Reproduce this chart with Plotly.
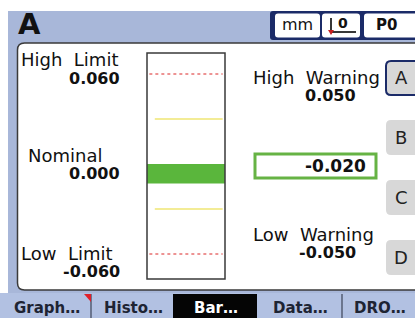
import plotly.graph_objects as go

W, H = 415, 318

# ---- data ----
channel = "A"
units = "mm"
preset = "P0"
limit_labels = ["High  Limit", "Nominal", "Low  Limit"]
limit_values = ["0.060", "0.000", "-0.060"]
warning_labels = ["High  Warning", "Low  Warning"]
warning_values = ["0.050", "-0.050"]
current_value = "-0.020"
limit_levels = [0.060, -0.060]       # red dotted lines on the bar
warning_levels = [0.030, -0.030]     # yellow lines on the bar (as drawn)
nominal = 0.0
bar_reading = -0.013                  # green bar end (as drawn)
axis_range = [-0.0767, 0.074]
buttons = ["A", "B", "C", "D"]
tabs = ["Graph…", "Histo…", "Bar…", "Data…", "DRO…"]
active_tab = "Bar…"


def px(x):
    return x / W


def py(y):
    return 1 - y / H


def rrect(x0, y0, x1, y1, r):
    X0, X1 = px(x0), px(x1)
    Y0, Y1 = py(y0), py(y1)
    rx, ry = r / W, r / H
    return (f"M {X0+rx},{Y0} L {X1-rx},{Y0} Q {X1},{Y0} {X1},{Y0-ry} "
            f"L {X1},{Y1+ry} Q {X1},{Y1} {X1-rx},{Y1} L {X0+rx},{Y1} "
            f"Q {X0},{Y1} {X0},{Y1+ry} L {X0},{Y0-ry} Q {X0},{Y0} {X0+rx},{Y0} Z")


BLUE = "#a8b7d9"
TABBLUE = "#b2c1e2"
NAVY = "#1b2b68"
FONT = "DejaVu Sans"

shapes = []
ann = []

# background chrome
shapes.append(dict(type="rect", xref="paper", yref="paper", x0=px(8), x1=px(415),
                   y0=py(293), y1=py(11), fillcolor=BLUE, line_width=0, layer="below"))
shapes.append(dict(type="rect", xref="paper", yref="paper", x0=px(0), x1=px(415),
                   y0=py(318), y1=py(293), fillcolor=TABBLUE, line_width=0, layer="below"))
# main panel
shapes.append(dict(type="path", xref="paper", yref="paper", path=rrect(17.5, 43, 440, 290, 7),
                   fillcolor="white", line=dict(color="#3a3a3a", width=1.5), layer="below"))

# top-right status boxes
shapes.append(dict(type="path", xref="paper", yref="paper", path=rrect(270, 11, 440, 40, 3),
                   fillcolor=NAVY, line_width=0, layer="below"))
for (a, b) in [(275, 320), (322, 360), (364, 440)]:
    shapes.append(dict(type="path", xref="paper", yref="paper", path=rrect(a, 13.5, b, 37.5, 3),
                       fillcolor="white", line_width=0, layer="below"))
# zero-set glyph
shapes.append(dict(type="line", xref="paper", yref="paper", x0=px(331), x1=px(331), y0=py(18), y1=py(33),
                   line=dict(color="#222", width=1.8)))
shapes.append(dict(type="line", xref="paper", yref="paper", x0=px(331), x1=px(356), y0=py(32), y1=py(32),
                   line=dict(color="#222", width=1.8)))
shapes.append(dict(type="path", xref="paper", yref="paper",
                   path=f"M {px(328)},{py(30)} L {px(334)},{py(30)} L {px(331)},{py(35)} Z",
                   fillcolor="#c81e1e", line_width=0))

# side buttons
btn_y = [(61, 95), (120, 155), (180, 215), (240, 275)]
for i, (a, b) in enumerate(btn_y):
    shapes.append(dict(type="path", xref="paper", yref="paper", path=rrect(386, a, 440, b, 5),
                       fillcolor="#d8d8d8",
                       line=dict(color=NAVY if i == 0 else "rgba(0,0,0,0)", width=2 if i == 0 else 0),
                       layer="below"))
    ann.append(dict(text=buttons[i], x=px(401), y=py((a + b) / 2), xref="paper", yref="paper",
                    showarrow=False, xanchor="center", yanchor="middle",
                    font=dict(family=FONT, size=18, color="#222")))

# value box
shapes.append(dict(type="rect", xref="paper", yref="paper", x0=px(255), x1=px(376), y0=py(178), y1=py(154),
                   fillcolor="white", line=dict(color="#66b344", width=3), layer="below"))

# tabs
tab_x = [(0, 91), (91, 173), (173, 257), (257, 342), (342, 415)]
for t, (a, b) in zip(tabs, tab_x):
    active = (t == active_tab)
    if active:
        shapes.append(dict(type="rect", xref="paper", yref="paper", x0=px(a), x1=px(b),
                           y0=py(318), y1=py(294), fillcolor="#050505", line_width=0, layer="below"))
    ann.append(dict(text="<b>" + t + "</b>", x=px((a + b) / 2 + 1), y=py(307.5), xref="paper", yref="paper",
                    showarrow=False, xanchor="center", yanchor="middle",
                    font=dict(family=FONT, size=15, color="white" if active else "#1e2433")))
for sx in [91, 342]:
    shapes.append(dict(type="line", xref="paper", yref="paper", x0=px(sx), x1=px(sx), y0=py(318), y1=py(294),
                       line=dict(color="#3c4458", width=1.2)))
shapes.append(dict(type="path", xref="paper", yref="paper",
                   path=f"M {px(84)},{py(294)} L {px(91)},{py(294)} L {px(91)},{py(302)} Z",
                   fillcolor="#e0202a", line_width=0))

# bar gauge lines
for lv in limit_levels:
    shapes.append(dict(type="line", xref="x domain", yref="y", x0=0.03, x1=0.97, y0=lv, y1=lv,
                       line=dict(color="#e87070", width=1.5, dash="dot")))
for lv in warning_levels:
    shapes.append(dict(type="line", xref="x domain", yref="y", x0=0.1, x1=0.97, y0=lv, y1=lv,
                       line=dict(color="#f3ec96", width=2)))
shapes.append(dict(type="rect", xref="x domain", yref="y domain", x0=0, x1=1, y0=0, y1=1,
                   line=dict(color="#3a3a3a", width=1.5), layer="above"))

# header text
ann.append(dict(text="<b>" + channel + "</b>", x=px(16), y=py(24), xref="paper", yref="paper",
                showarrow=False, xanchor="left", yanchor="middle",
                font=dict(family=FONT, size=29, color="#111")))
ann.append(dict(text=units, x=px(297.5), y=py(25), xref="paper", yref="paper", showarrow=False,
                xanchor="center", yanchor="middle", font=dict(family=FONT, size=16, color="#111")))
ann.append(dict(text="<b>0</b>", x=px(343), y=py(23), xref="paper", yref="paper", showarrow=False,
                xanchor="center", yanchor="middle", font=dict(family=FONT, size=14, color="#111")))
ann.append(dict(text="<b>" + preset + "</b>", x=px(386), y=py(25), xref="paper", yref="paper", showarrow=False,
                xanchor="center", yanchor="middle", font=dict(family=FONT, size=15, color="#111")))

# limit labels
lab_pos = [(19, 59.5, 78.5), (26, 155.5, 173), (19, 253.5, 271)]
for lbl, val, (lx, ly, vy) in zip(limit_labels, limit_values, lab_pos):
    ann.append(dict(text=lbl, x=px(lx), y=py(ly), xref="paper", yref="paper", showarrow=False,
                    xanchor="left", yanchor="middle", font=dict(family=FONT, size=18, color="#111")))
    ann.append(dict(text="<b>" + val + "</b>", x=px(122), y=py(vy), xref="paper", yref="paper",
                    showarrow=False, xanchor="right", yanchor="middle",
                    font=dict(family=FONT, size=16, color="#111")))
warn_pos = [(78, 95.5), (235, 252)]
for lbl, val, (ly, vy) in zip(warning_labels, warning_values, warn_pos):
    ann.append(dict(text=lbl, x=px(251), y=py(ly), xref="paper", yref="paper", showarrow=False,
                    xanchor="left", yanchor="middle", font=dict(family=FONT, size=18, color="#111")))
    ann.append(dict(text="<b>" + val + "</b>", x=px(358), y=py(vy), xref="paper", yref="paper",
                    showarrow=False, xanchor="right", yanchor="middle",
                    font=dict(family=FONT, size=16, color="#111")))
ann.append(dict(text="<b>" + current_value + "</b>", x=px(368), y=py(166), xref="paper", yref="paper",
                showarrow=False, xanchor="right", yanchor="middle",
                font=dict(family=FONT, size=17, color="#111")))

fig = go.Figure()
fig.add_trace(go.Bar(x=[0], y=[bar_reading - nominal], base=[nominal], width=[1.0],
                     marker=dict(color="#5ab63c", line_width=0), hoverinfo="skip"))

fig.update_layout(
    width=W, height=H, margin=dict(l=0, r=0, t=0, b=0),
    paper_bgcolor="white", plot_bgcolor="rgba(0,0,0,0)",
    showlegend=False,
    xaxis=dict(domain=[px(147), px(225)], range=[-0.5, 0.5], visible=False, fixedrange=True),
    yaxis=dict(domain=[py(279), py(53)], range=axis_range, visible=False, fixedrange=True),
    shapes=shapes, annotations=ann,
)

fig.write_html("out.html", config={"displayModeBar": False},
               post_script="document.body.style.margin='0px';document.body.style.overflow='hidden';")
